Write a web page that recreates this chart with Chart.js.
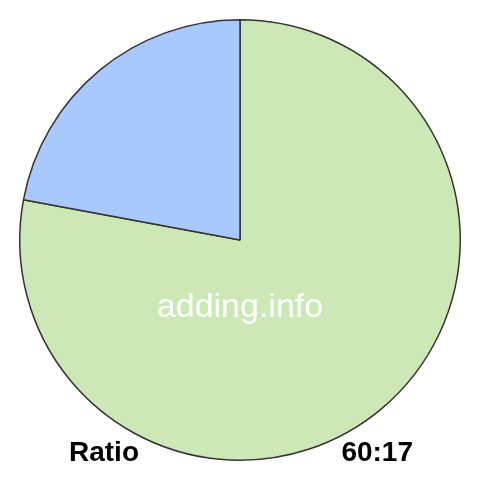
<!DOCTYPE html>
<html><head><meta charset="utf-8">
<script src="https://cdn.jsdelivr.net/npm/chart.js@4/dist/chart.umd.min.js"></script>
<style>html,body{margin:0;padding:0;background:#fff}#wrap{width:480px;height:480px}</style>
</head><body><div id="wrap"><canvas id="c" width="480" height="480"></canvas></div>
<script>
const categories = ["A", "B"];
const values = [60, 17];
const sliceColors = ["#cde8b7", "#a9c8fe"];
const leftLabel = "Ratio";
const rightLabel = "60:17";
const watermark = "adding.info";

const textPlugin = {
  id: 'texts',
  afterDraw(chart) {
    const ctx = chart.ctx;
    ctx.save();
    ctx.fillStyle = '#ffffff';
    ctx.font = '34px "Liberation Sans", Arial, sans-serif';
    ctx.textAlign = 'center';
    ctx.textBaseline = 'alphabetic';
    ctx.fillText(watermark, 240, 317);
    ctx.fillStyle = '#000000';
    ctx.font = 'bold 28px "Liberation Sans", Arial, sans-serif';
    ctx.textAlign = 'left';
    ctx.fillText(leftLabel, 69, 461);
    ctx.textAlign = 'right';
    ctx.fillText(rightLabel, 413, 461);
    ctx.restore();
  }
};

new Chart(document.getElementById('c'), {
  type: 'pie',
  data: {
    labels: categories,
    datasets: [{
      data: values,
      backgroundColor: sliceColors,
      borderColor: '#333333',
      borderWidth: 1.5
    }]
  },
  options: {
    responsive: false,
    animation: false,
    layout: { padding: 19 },
    plugins: { legend: { display: false }, tooltip: { enabled: false } }
  },
  plugins: [textPlugin]
});
</script></body></html>
